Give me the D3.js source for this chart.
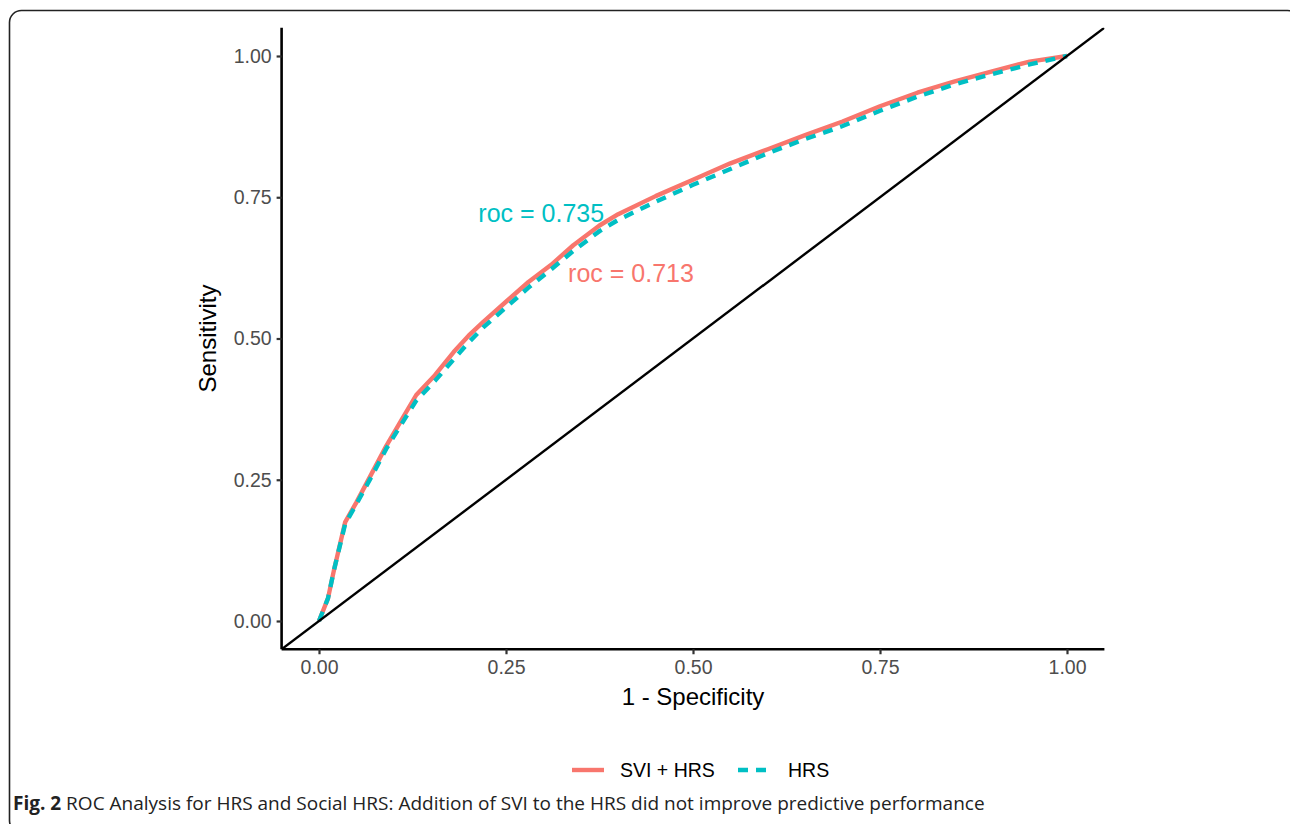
<!DOCTYPE html>
<html>
<head>
<meta charset="utf-8">
<script src="https://cdn.jsdelivr.net/npm/d3@7"></script>
<style>
  body { margin: 0; background: #fff; }
  svg { display: block; }
</style>
</head>
<body>
<svg id="chart" width="1290" height="824"></svg>
<script>
(() => {
    // ROC curve points (1 - specificity, sensitivity)
    const fpr = [0, 0.012, 0.02, 0.035, 0.05, 0.07, 0.09, 0.11, 0.13, 0.155, 0.18, 0.2, 0.22, 0.25,
        0.28, 0.31, 0.34, 0.375, 0.4, 0.45, 0.5, 0.55, 0.6, 0.65, 0.7, 0.75, 0.8, 0.85, 0.9, 0.95, 1];
    const tprSviHrs = [0, 0.04, 0.09, 0.175, 0.21, 0.26, 0.31, 0.355, 0.4, 0.435, 0.476, 0.505, 0.53, 0.565,
        0.6, 0.63, 0.665, 0.7, 0.72, 0.752, 0.781, 0.81, 0.835, 0.86, 0.884, 0.911, 0.935, 0.955, 0.973, 0.99, 1];
    const tprHrs = [0, 0.04, 0.09, 0.172, 0.207, 0.255, 0.305, 0.348, 0.39, 0.425, 0.463, 0.493, 0.52, 0.555,
        0.59, 0.622, 0.655, 0.69, 0.71, 0.742, 0.772, 0.8, 0.828, 0.853, 0.876, 0.903, 0.928, 0.95, 0.968, 0.985, 1];
    const ticks = [0, 0.25, 0.5, 0.75, 1];
    const seriesNames = ["SVI + HRS", "HRS"];
    const rocLabels = ["roc = 0.713", "roc = 0.735"];

    const red = "#F8766D", teal = "#00BFC4";
    const font = "'Liberation Sans', Arial, sans-serif";

    const svg = d3.select("#chart");

    // outer frame of the figure (runs off the right and bottom edges)
    svg.append("rect")
        .attr("x", 9.5).attr("y", 10.5)
        .attr("width", 1290).attr("height", 822)
        .attr("rx", 12)
        .attr("fill", "none").attr("stroke", "#222").attr("stroke-width", 1.6);

    const x = d3.scaleLinear().domain([-0.05, 1.05]).range([281.6, 1104.4]);
    const y = d3.scaleLinear().domain([-0.05, 1.05]).range([649.25, 27.75]);

    svg.append("defs").append("clipPath").attr("id", "panel")
        .append("rect")
        .attr("x", x(-0.05)).attr("y", y(1.05))
        .attr("width", x(1.05) - x(-0.05)).attr("height", y(-0.05) - y(1.05));

    const line = d3.line().x(d => x(d[0])).y(d => y(d[1]));
    const plot = svg.append("g").attr("clip-path", "url(#panel)");

    plot.append("path")
        .datum(fpr.map((f, i) => [f, tprSviHrs[i]]))
        .attr("d", line)
        .attr("fill", "none").attr("stroke", red).attr("stroke-width", 4.4)
        .attr("stroke-linejoin", "round");

    plot.append("path")
        .datum(fpr.map((f, i) => [f, tprHrs[i]]))
        .attr("d", line)
        .attr("fill", "none").attr("stroke", teal).attr("stroke-width", 4.4)
        .attr("stroke-dasharray", "10,8");

    // reference diagonal across the whole panel
    plot.append("path")
        .datum([[-0.05, -0.05], [1.05, 1.05]])
        .attr("d", line)
        .attr("fill", "none").attr("stroke", "#000").attr("stroke-width", 2.4);

    // axes
    const xAxis = svg.append("g")
        .attr("transform", `translate(0,${y(-0.05)})`)
        .call(d3.axisBottom(x).tickValues(ticks).tickFormat(d3.format(".2f")).tickSize(5).tickPadding(6));
    const yAxis = svg.append("g")
        .attr("transform", `translate(${x(-0.05)},0)`)
        .call(d3.axisLeft(y).tickValues(ticks).tickFormat(d3.format(".2f")).tickSize(5).tickPadding(5));

    [xAxis, yAxis].forEach(g => {
        g.select(".domain").attr("stroke", "#000").attr("stroke-width", 2.6)
            .attr("d", g === xAxis ? `M${x(-0.05)},0H${x(1.05)}` : `M0,${y(-0.05)}V${y(1.05)}`);
        g.selectAll(".tick line").attr("stroke", "#333").attr("stroke-width", 2.2);
        g.selectAll(".tick text")
            .attr("fill", "#4D4D4D").style("font-family", font).style("font-size", "19.5px");
    });

    svg.append("text")
        .attr("x", (x(-0.05) + x(1.05)) / 2).attr("y", 705)
        .attr("text-anchor", "middle")
        .style("font-family", font).style("font-size", "24px")
        .text("1 - Specificity");

    svg.append("text")
        .attr("transform", `translate(216,${(y(-0.05) + y(1.05)) / 2}) rotate(-90)`)
        .attr("text-anchor", "middle")
        .style("font-family", font).style("font-size", "24px")
        .text("Sensitivity");

    // AUC annotations
    svg.append("text")
        .attr("x", x(0.213)).attr("y", y(0.722)).attr("dy", "0.35em")
        .attr("fill", teal).style("font-family", font).style("font-size", "25px")
        .text(rocLabels[1]);
    svg.append("text")
        .attr("x", x(0.333)).attr("y", y(0.615)).attr("dy", "0.35em")
        .attr("fill", red).style("font-family", font).style("font-size", "25px")
        .text(rocLabels[0]);

    // legend
    const legend = svg.append("g").attr("transform", "translate(0,770)");
    legend.append("line").attr("x1", 572).attr("x2", 604).attr("y1", 0).attr("y2", 0)
        .attr("stroke", red).attr("stroke-width", 4.4);
    legend.append("text").attr("x", 620).attr("dy", "0.35em")
        .style("font-family", font).style("font-size", "19.5px").text(seriesNames[0]);
    legend.append("line").attr("x1", 738).attr("x2", 770).attr("y1", 0).attr("y2", 0)
        .attr("stroke", teal).attr("stroke-width", 4.4).attr("stroke-dasharray", "10,8");
    legend.append("text").attr("x", 788).attr("dy", "0.35em")
        .style("font-family", font).style("font-size", "19.5px").text(seriesNames[1]);

    // caption
    const cap = svg.append("text")
        .attr("x", 13).attr("y", 810)
        .style("font-family", "'Open Sans', 'Noto Sans', sans-serif").style("font-size", "20px")
        .attr("fill", "#222");
    cap.append("tspan").style("font-weight", "bold").text("Fig. 2");
    cap.append("tspan").text(" ROC Analysis for HRS and Social HRS: Addition of SVI to the HRS did not improve predictive performance");
    const w = cap.node().getComputedTextLength();
    cap.style("font-size", (20 * 972 / w).toFixed(2) + "px");
})();
</script>
</body>
</html>
